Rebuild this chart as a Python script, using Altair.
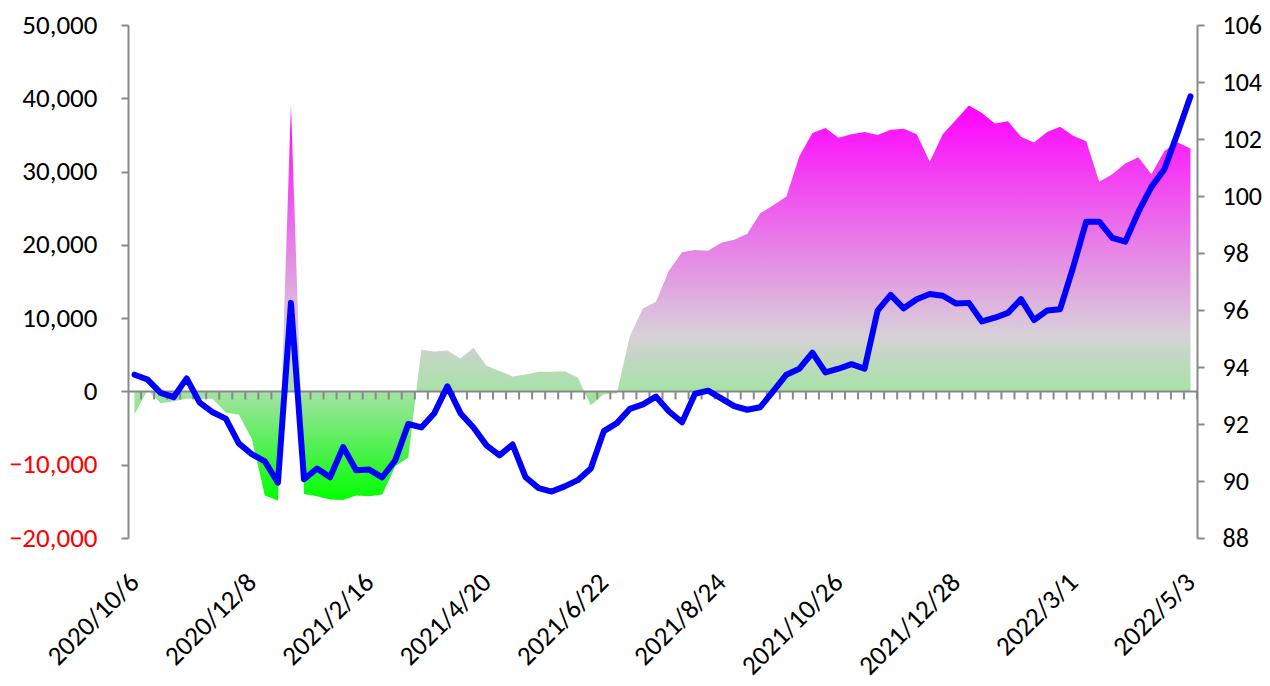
import altair as alt
import pandas as pd

# ---- categories: weekly dates (one holiday week missing) ----
all_weeks = pd.date_range("2020-10-06", periods=83, freq="7D")
weeks = [d for d in all_weeks if d != pd.Timestamp("2021-02-09")]
date_labels = [f"{d.year}/{d.month}/{d.day}" for d in weeks]
tick_labels = date_labels[::9]

# ---- series ----
net_position = [
    -3100, 200, -1600, -1350, -1000, -1000, -1000, -2900, -3150, -6500,
    -14200, -14900, 39100, -14000, -14300, -14750, -14800, -14200, -14300, -14050,
    -10200, -9000, 5700, 5460, 5600, 4500, 5950, 3500, 2800, 2050,
    2300, 2700, 2700, 2750, 1900, -1900, -400, -250, 7550, 11300,
    12250, 16500, 19000, 19300, 19200, 20300, 20700, 21500, 24300, 25400,
    26600, 32100, 35250, 35950, 34600, 35100, 35400, 35000, 35700, 35850,
    35100, 31350, 35100, 37050, 39000, 38000, 36550, 36850, 34750, 33950,
    35400, 36100, 34900, 34150, 28600, 29650, 31100, 31950, 29650, 32800,
    34000, 33150,
]
index_value = [
    93.73, 93.56, 93.09, 92.94, 93.60, 92.75, 92.41, 92.19, 91.32, 90.94,
    90.69, 89.94, 96.25, 90.06, 90.44, 90.13, 91.19, 90.38, 90.40, 90.13,
    90.73, 92.00, 91.88, 92.38, 93.32, 92.38, 91.88, 91.25, 90.90, 91.28,
    90.13, 89.75, 89.63, 89.81, 90.03, 90.44, 91.75, 92.03, 92.53, 92.69,
    92.96, 92.44, 92.06, 93.06, 93.17, 92.90, 92.63, 92.50, 92.59, 93.15,
    93.73, 93.94, 94.50, 93.81, 93.94, 94.10, 93.94, 95.98, 96.53, 96.06,
    96.38, 96.56, 96.50, 96.23, 96.25, 95.60, 95.73, 95.90, 96.38, 95.65,
    95.98, 96.03, 97.50, 99.10, 99.10, 98.53, 98.40, 99.44, 100.32, 100.94,
    102.19, 103.50,
]
left_ticks = [-20000, -10000, 0, 10000, 20000, 30000, 40000, 50000]
right_ticks = [88, 90, 92, 94, 96, 98, 100, 102, 104, 106]

df = pd.DataFrame({"date": date_labels, "net": net_position, "idx": index_value})
zero_df = pd.DataFrame({"v": [0]})

W, H = 1069, 513
STEP = W / len(date_labels)
GRAY = "#898989"
FONT = "Calibri, Carlito, Roboto, sans-serif"

xscale = alt.Scale(type="point", padding=0.5)
x_axis = alt.Axis(values=tick_labels, labelAngle=-45, labelAlign="right",
                  labelBaseline="middle", ticks=False, tickSize=0, domain=False,
                  labelPadding=40, labelFontSize=27, labelFont=FONT,
                  labelColor="#000000", labelOverlap=False, title=None, grid=False)
x_enc = alt.X("date:N", sort=date_labels, scale=xscale, axis=x_axis)

left_scale = alt.Scale(domain=[-20000, 50000], nice=False)
right_scale = alt.Scale(domain=[88, 106], nice=False, zero=False)

left_axis = alt.Axis(values=left_ticks, format=",.0f", orient="left", grid=False,
                     domainColor=GRAY, domainWidth=2, tickColor=GRAY, tickWidth=2,
                     tickSize=7, labelPadding=24, labelFontSize=27, labelFont=FONT,
                     labelColor={"condition": {"test": "datum.value < 0", "value": "#FF0000"},
                                 "value": "#000000"},
                     title=None)
right_axis = alt.Axis(values=right_ticks, orient="right", grid=False,
                      domainColor=GRAY, domainWidth=2, tickColor=GRAY, tickWidth=2,
                      tickSize=7, labelPadding=18, labelFontSize=26, labelFont=FONT,
                      labelColor="#000000", title=None)

grad = alt.Gradient(
    gradient="linear", x1=0, y1=1, x2=0, y2=0,
    stops=[
        alt.GradientStop(offset=0, color="#00FF00"),
        alt.GradientStop(offset=0.276, color="#A5E2A5"),
        alt.GradientStop(offset=0.42, color="#D8D0D8"),
        alt.GradientStop(offset=1, color="#FF00FF"),
    ],
)

area = alt.Chart(df).mark_area(color=grad).encode(
    x=x_enc,
    y=alt.Y("net:Q", scale=left_scale, axis=left_axis),
    y2=alt.datum(0),
)

zero_line = alt.Chart(zero_df).mark_rule(color=GRAY, strokeWidth=2).encode(
    y=alt.Y("v:Q", scale=left_scale, axis=left_axis)
)

cat_ticks = alt.Chart(df).mark_tick(
    orient="vertical", size=8, thickness=2, color=GRAY, opacity=1,
    xOffset=STEP / 2, yOffset=4,
).encode(x=x_enc, y=alt.Y("zero:Q", scale=left_scale, axis=left_axis)).transform_calculate(zero="0")

left = alt.layer(area, zero_line, cat_ticks)

line = alt.Chart(df).mark_line(
    color="#0000FF", strokeWidth=6, strokeJoin="round", strokeCap="round"
).encode(
    x=x_enc,
    y=alt.Y("idx:Q", scale=right_scale, axis=right_axis),
)

chart = alt.layer(left, line).resolve_scale(y="independent").properties(
    width=W, height=H,
    autosize=alt.AutoSizeParams(type="none"),
    padding={"left": 120, "top": 17, "right": 65, "bottom": 138},
).configure_view(stroke="transparent")

chart.save("out.html", embed_options={"renderer": "svg", "actions": False})
